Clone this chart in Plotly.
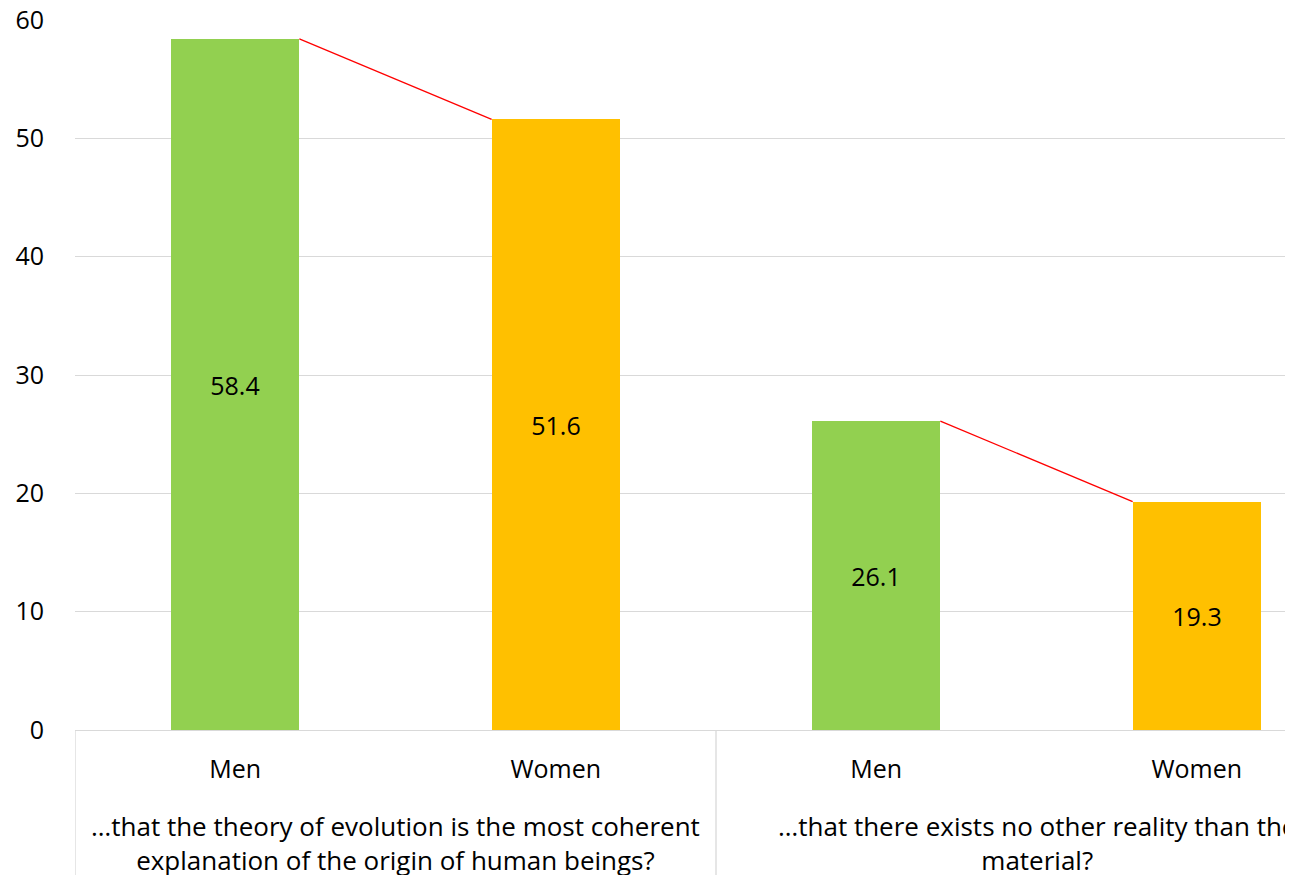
import plotly.graph_objects as go

groups = ["…that the theory of evolution is the most coherent<br>explanation of the origin of human beings?",
          "…that there exists no other reality than the<br>material?"]
genders = ["Men", "Women", "Men", "Women"]
values = [58.4, 51.6, 26.1, 19.3]
colors = ["#92D050", "#FFC000", "#92D050", "#FFC000"]
y_ticks = [0, 10, 20, 30, 40, 50, 60]

FONT = "Open Sans"
FS = 25
xpos = list(range(len(values)))
bw = 0.4
W = 1310
LM = 67
PX_PER_CAT = 320.5

fig = go.Figure()
fig.add_trace(go.Bar(
    x=xpos, y=values, width=bw, marker=dict(color=colors, line=dict(width=0)),
    text=[f"{v:.1f}" for v in values], textposition="inside",
    insidetextanchor="middle", textangle=0,
    textfont=dict(family=FONT, size=FS, color="black"),
    showlegend=False, hoverinfo="skip",
))
for g in range(2):
    i = 2 * g
    fig.add_trace(go.Scatter(
        x=[xpos[i] + bw / 2, xpos[i + 1] - bw / 2], y=[values[i], values[i + 1]],
        mode="lines", line=dict(color="#FF0000", width=1.3),
        showlegend=False, hoverinfo="skip", cliponaxis=False,
    ))

shapes = []
for xd in [-0.5, 1.5]:
    shapes.append(dict(type="line", xref="x", yref="paper", x0=xd, x1=xd, y0=0, y1=-0.3,
                       line=dict(color="#D9D9D9", width=1.3)))
annotations = []
for g, label in enumerate(groups):
    annotations.append(dict(
        x=2 * g + 0.5, y=-0.107, xref="x", yref="paper", text=label, showarrow=False,
        yanchor="top", xanchor="center", align="center",
        font=dict(family=FONT, size=26, color="black"),
    ))

fig.update_layout(
    width=W, height=875,
    margin=dict(l=LM, r=0, t=12, b=153, autoexpand=False),
    plot_bgcolor="white", paper_bgcolor="white",
    font=dict(family=FONT, size=FS, color="black"),
    shapes=shapes, annotations=annotations,
    bargap=0,
)
fig.update_xaxes(
    range=[-0.5, -0.5 + (W - LM) / PX_PER_CAT], tickvals=xpos, ticktext=genders,
    showgrid=False, zeroline=False, showline=False, ticks="",
    ticklabelstandoff=22, automargin=False,
    tickfont=dict(family=FONT, size=FS, color="black"),
)
fig.update_yaxes(
    range=[0, 60], tickvals=y_ticks, showgrid=True, gridcolor="#D9D9D9", gridwidth=1.3,
    zeroline=True, zerolinecolor="#D9D9D9", zerolinewidth=1.3,
    showline=False, ticks="", ticklabelstandoff=30, ticklabeloverflow="allow",
    automargin=False,
    tickfont=dict(family=FONT, size=FS, color="black"),
)

fig.write_html("out.html")
